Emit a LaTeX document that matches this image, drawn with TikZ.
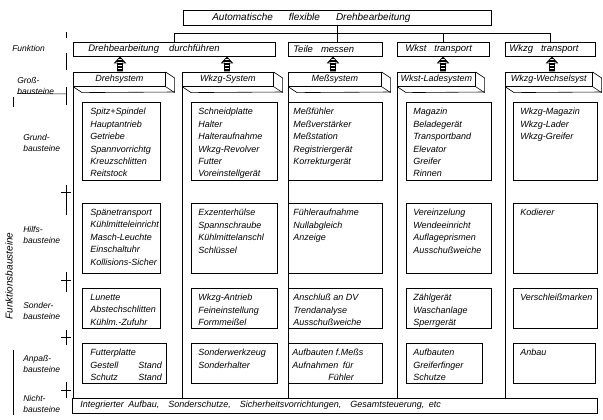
\documentclass[tikz,border=0pt]{standalone}
\usepackage{fontspec}
\setmainfont{Liberation Sans}
\usetikzlibrary{calc}
\newcommand\mybox[7]{%
  \node[frame,minimum width={(#4-#2)*1pt},minimum height={(#5-#3)*1pt}] (#1) at (#2,#3) {};
  \node[txt] (#1t) at ($(#1.north west)+(#6,6)$) {#7};}
\newcommand\grossbox[4]{%
  \node[gface,minimum width={#3*1pt}] (#1) at (#2,72) {#4};
  \draw (#1.north east) -- ++(9,6) -- ++(0,14) -- ($(#1.south west)+(9,6)$) -- (#1.south west);
  \draw (#1.south east) -- ++(9,6);}
\begin{document}
\begin{tikzpicture}[x=1pt,y=-1pt,line width=0.6pt,
  txt/.style={font=\itshape\fontsize{9}{12.4}\selectfont,inner sep=0pt,align=left,anchor=north west},
  lab/.style={font=\itshape\fontsize{8.5}{11}\selectfont,inner sep=0pt,align=left,anchor=west},
  ftxt/.style={font=\itshape\fontsize{9.5}{11}\selectfont,inner sep=0pt,anchor=west},
  frame/.style={draw,rectangle,inner sep=0pt,anchor=north west},
  gface/.style={frame,font=\itshape\fontsize{9}{10}\selectfont,minimum height=14pt},
  colline/.style={line width=0.5pt},
  tick/.style={line width=1pt},
  uparrow/.pic={
    \begin{scope}
      \clip (0,0) -- (5.5,6) -- (2.5,6) -- (2.5,14) -- (-2.5,14) -- (-2.5,6) -- (-5.5,6) -- cycle;
      \foreach \yy in {1.5,3,...,13.5} \draw[line width=0.6pt] (-6,\yy) -- (6,\yy);
    \end{scope}
    \draw[line width=0.7pt] (0,0) -- (5.5,6) -- (2.5,6) -- (2.5,14) -- (-2.5,14) -- (-2.5,6) -- (-5.5,6) -- cycle;}]
\useasboundingbox (0,0) rectangle (603,420);

% top
\node[frame,minimum width=308pt,minimum height=15pt] (top) at (183,10) {};
\node[ftxt,font=\itshape\fontsize{10}{11}\selectfont] (topt) at (212,17.5) {Automatische\hspace{16pt}flexible\hspace{16pt}Drehbearbeitung};

% function row
\node[frame,minimum width=202pt,minimum height=14pt] (f1) at (73,42) {};
\node[ftxt] (f1t) at (88,49) {Drehbearbeitung\hspace{10pt}durchführen};
\node[frame,minimum width=94pt,minimum height=14pt] (f2) at (288,42) {};
\node[ftxt] (f2t) at (293,49) {Teile\hspace{8pt}messen};
\node[frame,minimum width=92pt,minimum height=14pt] (f3) at (397,42) {};
\node[ftxt] (f3t) at (405,49) {Wkst\hspace{8pt}transport};
\node[frame,minimum width=90pt,minimum height=14pt] (f4) at (505,42) {};
\node[ftxt] (f4t) at (509,49) {Wkzg\hspace{8pt}transport};

\draw (f1.north) -- ++(0,-9) coordinate (bus) -| (f4.north);
\draw (f3.north) -- (f3.north |- bus);
\draw (top.south) -- (top.south |- f2.north);

\pic at (120,57) {uparrow};
\pic at (227,57) {uparrow};
\pic at (333,57) {uparrow};
\pic at (443,57) {uparrow};
\pic at (552,57) {uparrow};

% gross row
\grossbox{gb1}{73}{92}{Drehsystem}
\grossbox{gb2}{182}{91}{Wkzg-System}
\grossbox{gb3}{288}{93}{Meßsystem}
\grossbox{gb4}{397}{78}{Wkst-Ladesystem}
\grossbox{gb5}{505}{87}{Wkzg-Wechselsyst}

% nicht row
\node[frame,minimum width=525pt,minimum height=15pt] (nb) at (72,398) {};
\node[ftxt,font=\itshape\fontsize{9}{11}\selectfont] (nbt) at (80,405.5) {Integrierter\enspace Aufbau,\quad Sonderschutze,\quad Sicherheitsvorrichtungen,\quad Gesamtsteuerung,\enspace etc};

\foreach \g in {gb1,gb2,gb3,gb4,gb5} \draw[colline] (\g.south west) -- (\g.south west |- nb.north);

% Grund
\mybox{g1}{82}{102}{160}{180}{8}{Spitz+Spindel\\Hauptantrieb\\Getriebe\\Spannvorrichtg\\Kreuzschlitten\\Reitstock}
\mybox{g2}{191}{102}{277}{180}{7}{Schneidplatte\\Halter\\Halteraufnahme\\Wkzg-Revolver\\Futter\\Voreinstellgerät}
\mybox{g3}{288}{102}{382}{180}{5}{Meßfühler\\Meßverstärker\\Meßstation\\Registriergerät\\Korrekturgerät}
\mybox{g4}{406}{102}{491}{180}{7}{Magazin\\Beladegerät\\Transportband\\Elevator\\Greifer\\Rinnen}
\mybox{g5}{513}{102}{597}{180}{7}{Wkzg-Magazin\\Wkzg-Lader\\Wkzg-Greifer}

% Hilfs
\mybox{h1}{82}{203}{160}{273}{8}{Spänetransport\\Kühlmitteleinricht\\Masch-Leuchte\\Einschaltuhr\\Kollisions-Sicher}
\mybox{h2}{191}{203}{277}{273}{7}{Exzenterhülse\\Spannschraube\\Kühlmittelanschl\\Schlüssel}
\mybox{h3}{288}{203}{382}{273}{5}{Fühleraufnahme\\Nullabgleich\\Anzeige}
\mybox{h4}{406}{203}{491}{273}{7}{Vereinzelung\\Wendeeinricht\\Auflageprismen\\Ausschußweiche}
\mybox{h5}{513}{203}{597}{273}{7}{Kodierer}

% Sonder
\mybox{s1}{82}{288}{160}{328}{8}{Lunette\\Abstechschlitten\\Kühlm.-Zufuhr}
\mybox{s2}{191}{288}{277}{328}{7}{Wkzg-Antrieb\\Feineinstellung\\Formmeißel}
\mybox{s3}{288}{288}{382}{328}{5}{Anschluß an DV\\Trendanalyse\\Ausschußweiche}
\mybox{s4}{406}{288}{491}{328}{7}{Zählgerät\\Waschanlage\\Sperrgerät}
\mybox{s5}{513}{288}{597}{328}{7}{Verschleißmarken}

% Anpass
\mybox{a1}{82}{343}{166}{383}{8}{Futterplatte\\\makebox[48pt][l]{Gestell}Stand\\\makebox[48pt][l]{Schutz}Stand}
\mybox{a2}{191}{343}{277}{383}{7}{Sonderwerkzeug\\Sonderhalter}
\mybox{a3}{288}{343}{382}{383}{4}{Aufbauten f.Meßs\\Aufnahmen\enspace für\\\hspace*{36pt}Fühler}
\mybox{a4}{406}{343}{482}{383}{7}{Aufbauten\\Greiferfinger\\Schutze}
\mybox{a5}{513}{343}{595}{383}{7}{Anbau}

% left labels
\node[lab] (lfun) at (12,48) {Funktion};
\node[lab] (lgross) at (17,85.5) {Groß-\\bausteine};
\node[lab] (lgrund) at (23,143) {Grund-\\bausteine};
\node[lab] (lhilfs) at (23,235) {Hilfs-\\bausteine};
\node[lab] (lsonder) at (23,310.5) {Sonder-\\bausteine};
\node[lab] (lanpass) at (23,364) {Anpaß-\\bausteine};
\node[lab] (lnicht) at (23,404) {Nicht-\\bausteine};
\node[lab,font=\itshape\fontsize{10}{11}\selectfont,rotate=90,anchor=center] (lfb) at (9,276) {Funktionsbausteine};
\draw[line width=0.5pt] ($(lgross.south west)+(0,-1)$) -- (66,94);

% scale
\draw[tick] (66,32) -- (66,38);
\draw[tick] (66,53) -- (66,70);
\draw[tick] (66,87) -- (66,105);
\draw[tick] (66,185) -- (66,215); \draw[line width=0.5pt] (61,192) -- (71,192);
\draw[tick] (66,272) -- (66,292); \draw[line width=0.5pt] (61,280) -- (71,280);
\draw[tick] (66,330) -- (66,345); \draw[line width=0.5pt] (61,337) -- (71,337);
\draw[tick] (66,382) -- (66,398); \draw[line width=0.5pt] (61,390) -- (71,390);
\draw[line width=0.5pt] (13,97) -- (13,107);
\draw[line width=0.5pt] (13,350) -- (13,415);
\end{tikzpicture}
\end{document}
